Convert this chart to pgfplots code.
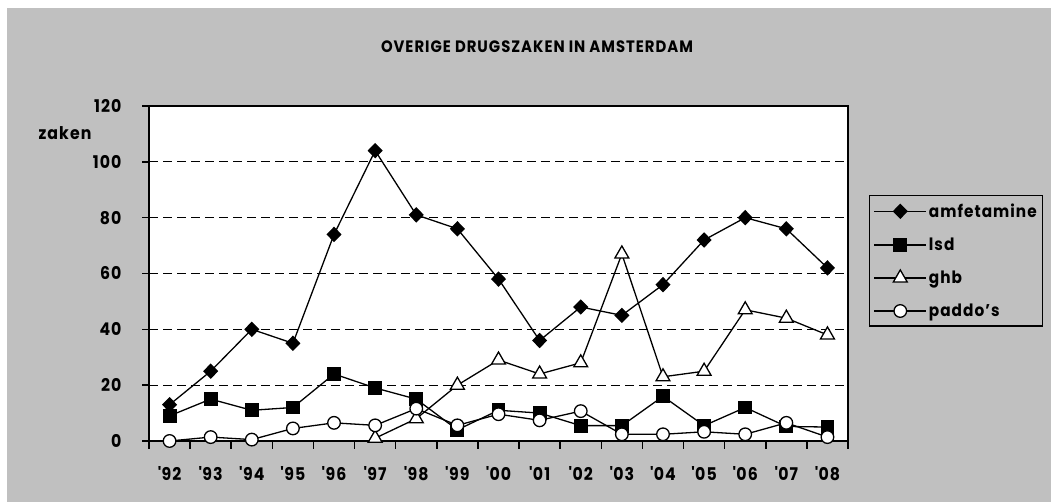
\documentclass[border=0pt]{standalone}
\usepackage{fontspec}
\setmainfont{Poppins}[FakeStretch=0.9, LetterSpace=6]
\usepackage{pgfplots}
\pgfplotsset{compat=1.18}
\definecolor{chartgray}{RGB}{192,192,192}
\pgfplotstableread{
x amf lsd paddo
0 13 9 0
1 25 15 1.4
2 40 11 0.5
3 35 12 4.5
4 74 24 6.5
5 104 19 5.6
6 81 15 11.6
7 76 4 5.6
8 58 11 9.6
9 36 10 7.4
10 48 5.5 10.7
11 45 5.5 2.4
12 56 16 2.4
13 72 5.5 3.3
14 80 12 2.4
15 76 5.2 6.5
16 62 5 1.4
}\maindata
\pgfplotstableread{
x ghb
5 1
6 8
7 20
8 29
9 24
10 28
11 67
12 23
13 25
14 47
15 44
16 38
}\ghbdata
\newcommand\cf{\fontsize{16.5bp}{19bp}\selectfont\bfseries}
\newcommand\tf{\fontsize{17.5bp}{20bp}\selectfont\bfseries}
\newcommand\lf{\fontsize{17bp}{20bp}\selectfont\bfseries}
\begin{document}
\begin{tikzpicture}[x=1bp,y=1bp]
\path[use as bounding box] (0,0) rectangle (1051,502);
\fill[white] (0,0) rectangle (1051,502);
\fill[chartgray] (7,0) rectangle (1051,494);
\node[font=\cf] at (537,455) {OVERIGE DRUGSZAKEN IN AMSTERDAM};
\node[font=\tf] at (65,369) {zaken};
\begin{axis}[
  at={(149bp,61bp)}, anchor=south west,
  scale only axis, width=699bp, height=335bp,
  xmin=-0.5, xmax=16.5, ymin=0, ymax=120,
  axis background/.style={fill=white},
  axis line style={line width=2bp},
  ytick={0,20,...,120},
  xtick={0,...,16},
  xticklabels={\textquotesingle 92,\textquotesingle 93,\textquotesingle 94,\textquotesingle 95,\textquotesingle 96,\textquotesingle 97,\textquotesingle 98,\textquotesingle 99,\textquotesingle 00,\textquotesingle 01,\textquotesingle 02,\textquotesingle 03,\textquotesingle 04,\textquotesingle 05,\textquotesingle 06,\textquotesingle 07,\textquotesingle 08},
  minor xtick={-0.5,0.5,...,16.5},
  major x tick style={draw=none},
  tick pos=left,
  tick align=outside,
  major tick length=7bp,
  minor tick length=8bp,
  tick style={line width=1.5bp, black},
  ymajorgrids,
  major grid style={line width=1bp, black, dash pattern=on 9bp off 5bp},
  /pgf/number format/assume math mode=true,
  tick label style={font=\tf},
  xticklabel style={yshift=-15bp},
  yticklabel style={xshift=-17bp},
  legend style={at={(1.030,0.734)}, anchor=north west, draw=black, line width=1.3bp, fill=chartgray,
    font=\lf, inner xsep=4bp, inner ysep=6bp, row sep=15bp},
  legend cell align=left,
  legend image code/.code={\draw[mark repeat=2,mark phase=2] plot coordinates {(0bp,0bp)(26bp,0bp)(52bp,0bp)};},
  every axis plot/.append style={black, line width=1.3bp},
]
\addplot[mark=diamond*, mark size=6.8bp, mark options={xscale=1.3, fill=black}] table[x=x,y=amf] {\maindata};
\addlegendentry{amfetamine}
\addplot[mark=square*, mark size=6.3bp, mark options={fill=black}] table[x=x,y=lsd] {\maindata};
\addlegendentry{lsd}
\addplot[mark=triangle*, mark size=8bp, mark options={fill=white}] table[x=x,y=ghb] {\ghbdata};
\addlegendentry{ghb}
\addplot[mark=*, mark size=6.3bp, mark options={fill=white}] table[x=x,y=paddo] {\maindata};
\addlegendentry{paddo's}
\end{axis}
\end{tikzpicture}
\end{document}
